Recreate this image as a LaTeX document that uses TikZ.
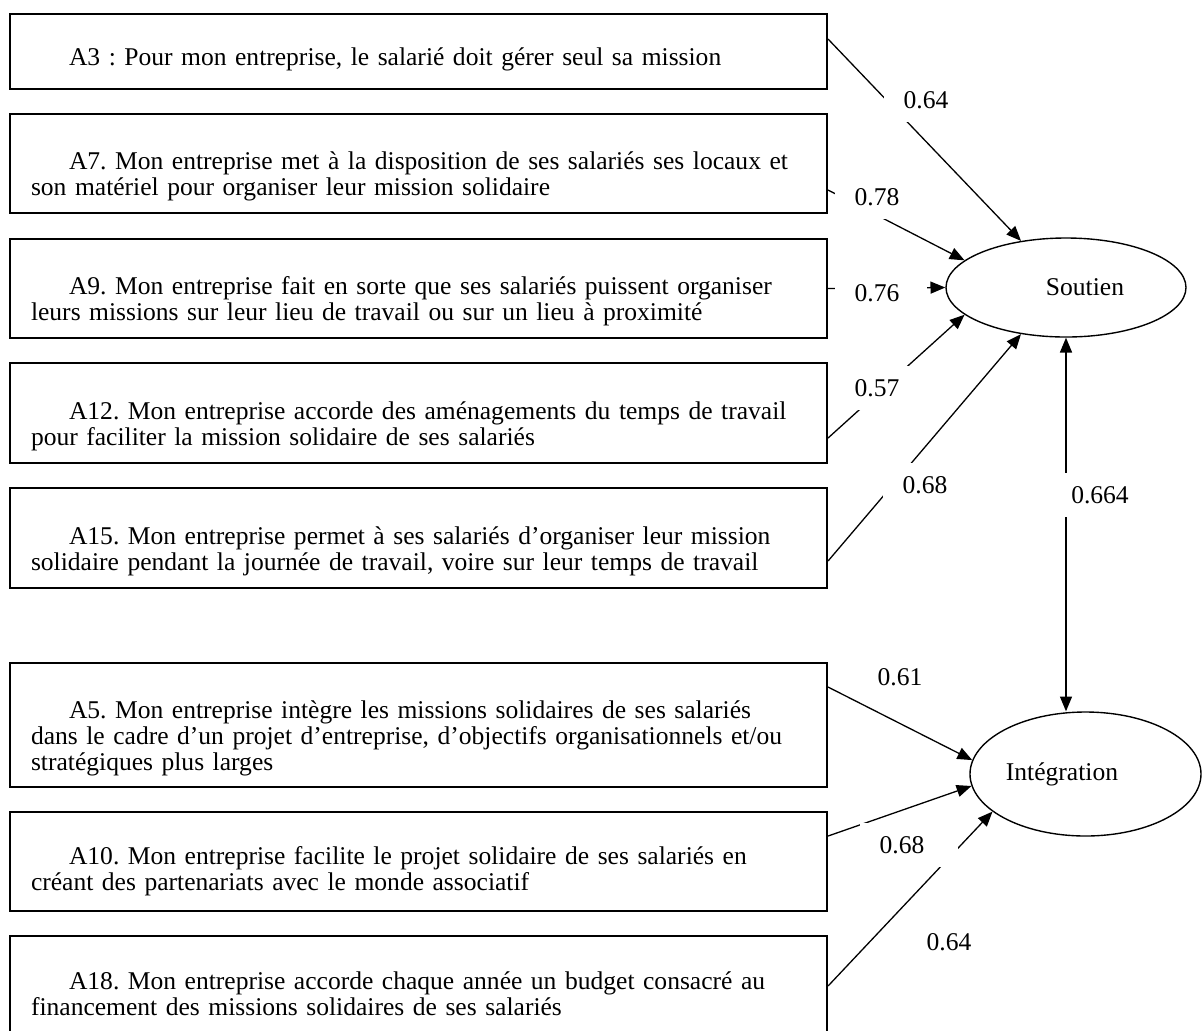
\documentclass[tikz,border=0pt]{standalone}
\usepackage{fontspec}
\setmainfont{Liberation Serif}
\usetikzlibrary{shapes.geometric,arrows.meta}
\newlength\pxl
\setlength\pxl{0.54pt}
\newcommand\ind{\hspace*{38\pxl}}
\frenchspacing

\begin{document}
\begin{tikzpicture}[x=0.54pt,y=-0.54pt,font=\fontsize{13.8}{14}\selectfont]
    \tikzstyle{item}=[draw,line width=1.1pt,anchor=north west,minimum width=817\pxl,text width=775\pxl,inner xsep=21\pxl,inner ysep=0pt,align=left]
    \tikzstyle{factor}=[draw,ellipse,line width=0.75pt,inner sep=0pt]
    \tikzstyle{load}=[-{Triangle[length=8pt,width=6.5pt]},line width=0.7pt]
    \tikzstyle{corr}=[{Triangle[length=8pt,width=6.5pt]}-{Triangle[length=8pt,width=6.5pt]},line width=0.7pt]
    \tikzstyle{coef}=[fill=white,inner xsep=20\pxl,inner ysep=13\pxl]
    \useasboundingbox (0,0) rectangle (1202,1030);
    \clip (0,0) rectangle (1202,1030);

    \node[item,minimum height=75\pxl] (a3) at (9,13) {\strut\\[-6pt]\ind A3 : Pour mon entreprise, le salarié doit gérer seul sa mission};
    \node[item,minimum height=99\pxl] (a7) at (9,113) {\strut\\\ind A7. Mon entreprise met à la disposition de ses salariés ses locaux et\\son matériel pour organiser leur mission solidaire};
    \node[item,minimum height=99\pxl] (a9) at (9,238) {\strut\\\ind A9. Mon entreprise fait en sorte que ses salariés puissent organiser\\leurs missions sur leur lieu de travail ou sur un lieu à proximité};
    \node[item,minimum height=100\pxl] (a12) at (9,362) {\strut\\\ind A12. Mon entreprise accorde des aménagements du temps de travail\\pour faciliter la mission solidaire de ses salariés};
    \node[item,minimum height=100\pxl] (a15) at (9,487) {\strut\\\ind A15. Mon entreprise permet à ses salariés d’organiser leur mission\\solidaire pendant la journée de travail, voire sur leur temps de travail};
    \node[item,minimum height=124\pxl] (a5) at (9,662) {\strut\\\ind A5. Mon entreprise intègre les missions solidaires de ses salariés\\dans le cadre d’un projet d’entreprise, d’objectifs organisationnels et/ou\\stratégiques plus larges};
    \node[item,minimum height=99\pxl] (a10) at (9,811) {\strut\\[-4pt]\ind A10. Mon entreprise facilite le projet solidaire de ses salariés en\\créant des partenariats avec le monde associatif};
    \node[item,minimum height=100\pxl] (a18) at (9,935) {\strut\\[-6pt]\ind A18. Mon entreprise accorde chaque année un budget consacré au\\financement des missions solidaires de ses salariés};

    \node[factor,minimum width=240\pxl,minimum height=99\pxl] (sout) at (1066,287.5) {\hspace*{38\pxl}Soutien};
    \node[factor,minimum width=231\pxl,minimum height=124\pxl] (integ) at (1085.5,774) {Intégration\hspace*{47\pxl}};

    \draw[load] ([yshift=12.5\pxl]a3.east) -- (sout.134);
    \draw[load] ([yshift=-26.5\pxl]a7.east) -- (sout.165);
    \draw[load] (a9.east) -- (sout.west);
    \draw[load] ([yshift=-25\pxl]a12.east) -- (sout.195);
    \draw[load] ([yshift=-23\pxl]a15.east) -- (sout.226);
    \draw[load] ([yshift=38\pxl]a5.east) -- (integ.173);
    \draw[load] ([yshift=25.5\pxl]a10.east) -- (integ.186);
    \draw[load] (a18.east) -- (integ.202);
    \draw[corr] (sout.south) -- (integ.north -| sout.south);

    \node[coef] (c3) at (926,100) {0.64};
    \node[coef] (c7) at (877,197) {0.78};
    \node[coef] (c9) at (881,293) {0.76\hspace*{8\pxl}};
    \node[coef] (c12) at (877,388) {0.57};
    \node[coef] (c15) at (925,485) {0.68};
    \node[coef] (cor) at (1100,495) {0.664};
    \node[coef] (c5) at (900,677) {0.61};
    \node[coef] (c10) at (909,845) {0.68\hspace*{14\pxl}};
    \node[coef] (c18) at (949,942) {0.64};
\end{tikzpicture}
\end{document}
